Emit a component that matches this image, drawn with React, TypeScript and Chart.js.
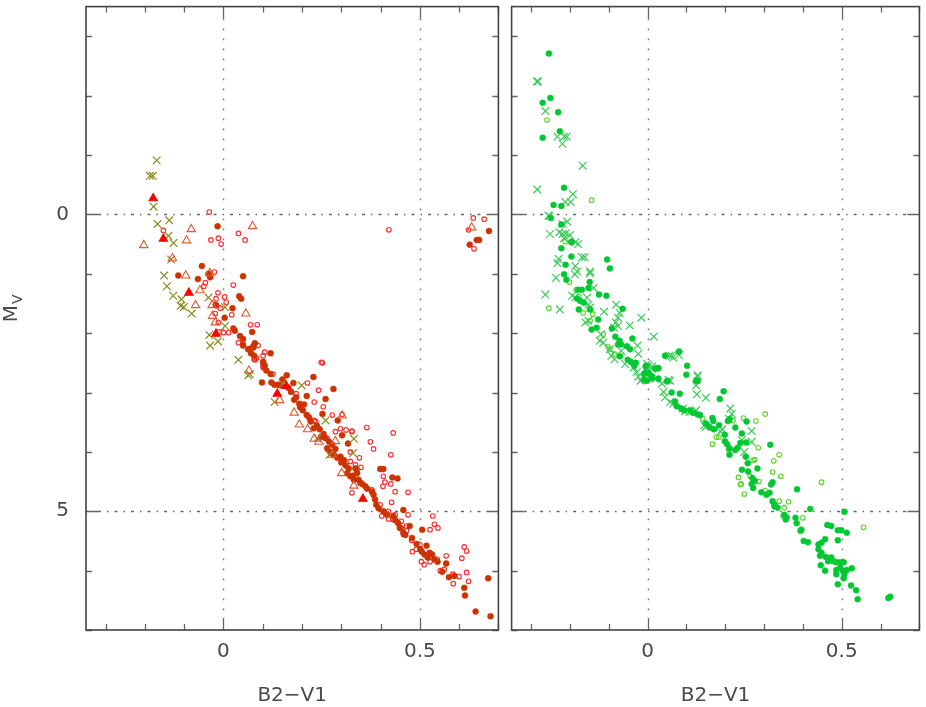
import React, { useEffect, useRef } from "react";
import { Chart, registerables } from "chart.js";

Chart.register(...registerables);

// ---------- axes ----------
const X_MIN = -0.35;
const X_MAX = 0.7;
const Y_MIN = -3.5;
const Y_MAX = 7.0;
const X_TICKS = [-0.3, -0.2, -0.1, 0, 0.1, 0.2, 0.3, 0.4, 0.5, 0.6, 0.7];
const Y_TICKS = [-3, -2, -1, 0, 1, 2, 3, 4, 5, 6, 7];
const X_LABELED = [0, 0.5];
const Y_LABELED = [0, 5];
const X_TITLE = "B2\u2212V1";
const Y_TITLE_MAIN = "M";
const Y_TITLE_SUB = "V";

// ---------- left panel data [B2-V1, M_V] ----------
const LEFT_OPEN_CIRCLES = [
  [-0.036, -0.04], [-0.153, 0.27], [-0.032, 0.43], [-0.013, 0.4], [-0.006, 0.5], [0.038, 0.32], [0.055, 0.43],
  [-0.023, 0.97], [-0.046, 1.15], [-0.05, 1.21], [-0.014, 1.32], [-0.019, 1.42], [0.003, 1.39], [0.007, 1.48],
  [-0.017, 1.54], [-0.008, 1.58], [0.025, 1.19], [0.021, 1.69], [-0.021, 1.67], [-0.013, 1.82], [-0.011, 1.98],
  [0.0, 1.99], [0.013, 1.99], [0.069, 1.86], [0.086, 1.86], [0.038, 2.16], [0.05, 2.19], [0.067, 2.26],
  [0.105, 2.32], [0.08, 2.45], [0.249, 2.49], [0.084, 2.42], [0.101, 2.58], [0.126, 2.69], [0.252, 2.5],
  [0.214, 2.84], [0.231, 3.16], [0.254, 3.24], [0.277, 3.38], [0.302, 3.37], [0.327, 3.65], [0.323, 4.0],
  [0.08, 2.44], [0.101, 2.56], [0.242, 2.96], [0.312, 3.63], [0.327, 3.66], [0.365, 3.59], [0.432, 3.68],
  [0.374, 3.83], [0.382, 3.95], [0.426, 4.05], [0.346, 4.1], [0.35, 4.26], [0.407, 4.41], [0.411, 4.51],
  [0.406, 4.58], [0.426, 4.54], [0.437, 4.67], [0.47, 4.68], [0.428, 4.85], [0.327, 4.69], [0.403, 5.08],
  [0.42, 5.13], [0.437, 5.06], [0.47, 5.06], [0.453, 5.28], [0.458, 5.39], [0.466, 5.33], [0.479, 5.49],
  [0.5, 5.56], [0.491, 5.64], [0.481, 5.68], [0.504, 5.85], [0.511, 5.9], [0.526, 5.85], [0.544, 5.81],
  [0.567, 5.75], [0.533, 5.08], [0.537, 5.22], [0.546, 5.28], [0.526, 5.31], [0.613, 5.6], [0.619, 5.67],
  [0.607, 5.79], [0.552, 6.0], [0.562, 5.98], [0.584, 6.06], [0.585, 6.22], [0.6, 6.1], [0.619, 6.03],
  [0.624, 6.18], [0.636, 0.06], [0.664, 0.08], [0.624, 0.26], [0.638, 0.58], [0.421, 0.26],
  [0.101, 2.38], [0.088, 2.21], [0.078, 2.44], [0.185, 3.02], [0.172, 2.98], [0.231, 3.47], [0.235, 3.49],
  [0.264, 3.77], [0.285, 3.66], [0.298, 3.61], [0.323, 4.16], [0.336, 4.22], [0.34, 4.3], [0.378, 4.64],
  [0.399, 4.89], [0.42, 5.0], [0.432, 5.14], [0.453, 5.17], [0.466, 5.25],
];

const LEFT_FILLED_CIRCLES = [
  [-0.015, 0.2], [-0.055, 0.87], [-0.115, 1.03], [-0.065, 1.09], [-0.038, 1.0], [-0.034, 1.06], [0.05, 1.04],
  [0.04, 1.38], [0.045, 1.42], [0.023, 1.58], [0.003, 1.74], [0.073, 1.98], [-0.02, 1.52], [0.025, 1.92],
  [0.029, 1.96], [0.042, 2.05], [0.05, 2.1], [0.08, 2.17], [0.076, 2.24], [0.05, 2.21], [0.063, 2.27],
  [0.07, 2.34], [0.078, 2.38], [0.12, 2.34], [0.101, 2.48], [0.101, 2.5], [0.109, 2.63], [0.12, 2.69],
  [0.098, 2.83], [0.122, 2.83], [0.13, 2.87], [0.161, 2.71], [0.178, 2.84], [0.229, 2.74], [0.28, 2.94],
  [0.212, 3.06], [0.26, 3.11], [0.172, 2.99], [0.185, 3.08], [0.193, 3.19], [0.202, 3.3], [0.212, 3.38],
  [0.222, 3.49], [0.238, 3.56], [0.252, 3.36], [0.291, 3.47], [0.248, 3.75], [0.26, 3.77], [0.269, 3.83],
  [0.277, 3.88], [0.264, 3.94], [0.272, 4.0], [0.281, 4.05], [0.302, 3.72], [0.317, 3.86], [0.298, 4.08],
  [0.307, 4.14], [0.311, 4.23], [0.319, 4.28], [0.315, 4.36], [0.323, 4.41], [0.332, 4.47], [0.336, 4.28],
  [0.34, 4.36], [0.344, 4.47], [0.353, 4.54], [0.361, 4.58], [0.378, 4.67], [0.382, 4.72], [0.386, 4.8],
  [0.389, 4.89], [0.399, 4.29], [0.407, 4.29], [0.43, 4.43], [0.443, 4.45], [0.407, 5.0], [0.416, 5.06],
  [0.432, 5.08], [0.445, 5.2], [0.449, 5.28], [0.458, 5.36], [0.458, 4.98], [0.474, 5.25], [0.506, 5.31],
  [0.501, 5.64], [0.512, 5.73], [0.52, 5.78], [0.531, 5.73], [0.537, 5.81], [0.517, 5.58], [0.567, 5.88],
  [0.557, 6.02], [0.574, 6.11], [0.588, 6.09], [0.613, 6.29], [0.615, 6.42], [0.674, 6.13], [0.642, 6.69],
  [0.68, 6.77], [0.076, 2.22], [0.139, 2.87], [0.145, 2.88], [0.105, 2.55],
  [0.676, 0.28], [0.627, 0.51], [0.645, 0.43], [0.651, 0.43],
  [0.15, 2.78], [0.165, 2.92], [0.18, 3.12], [0.195, 3.25], [0.205, 3.2], [0.218, 3.42], [0.23, 3.6],
  [0.245, 3.62], [0.255, 3.7], [0.285, 3.95], [0.29, 4.1], [0.3, 4.18], [0.33, 4.4], [0.348, 4.52],
  [0.366, 4.62], [0.395, 4.95], [0.438, 5.15], [0.463, 5.4], [0.48, 5.45], [0.492, 5.55], [0.505, 5.68],
  [0.525, 5.7], [0.545, 5.85],
];

const LEFT_CROSSES = [
  [-0.17, -0.91], [-0.187, -0.65], [-0.18, -0.65], [-0.178, -0.13], [-0.168, 0.16], [-0.138, 0.1],
  [-0.14, 0.36], [-0.127, 0.48], [-0.133, 0.76], [-0.151, 1.03], [-0.144, 1.21], [-0.128, 1.37],
  [-0.107, 1.43], [-0.109, 1.54], [-0.101, 1.56], [-0.081, 1.67], [-0.038, 1.4], [-0.036, 2.03],
  [-0.034, 2.21], [-0.014, 2.14], [0.004, 1.88], [0.004, 1.56], [0.038, 2.45], [0.063, 2.71], [0.067, 2.69],
  [0.151, 2.85], [0.13, 3.16], [0.199, 2.88], [0.26, 3.47], [0.332, 3.78], [0.239, 3.77], [0.27, 4.05],
  [0.33, 4.02],
];

const LEFT_OPEN_TRIANGLES = [
  [-0.203, 0.52], [-0.082, 0.25], [-0.094, 0.44], [0.074, 0.2], [-0.13, 0.74], [-0.096, 1.03], [-0.06, 1.28],
  [-0.071, 1.53], [-0.035, 0.99], [-0.029, 1.53], [-0.028, 1.71], [-0.021, 1.82], [0.057, 1.67], [0.065, 2.63],
  [0.143, 3.13], [0.18, 3.34], [0.193, 3.54], [0.214, 3.62], [0.231, 3.78], [0.243, 3.83], [0.277, 4.05],
  [0.301, 4.36], [0.332, 4.57], [0.302, 3.39], [0.285, 3.82], [0.632, 0.22],
];

const LEFT_FILLED_TRIANGLES = [
  [-0.179, -0.27], [-0.153, 0.41], [-0.088, 1.32], [-0.019, 2.01], [0.137, 3.02], [0.16, 2.89], [0.355, 4.79],
];

// ---------- right panel data [B2-V1, M_V] ----------
const RIGHT_FILLED_CIRCLES = [
  [-0.254, -2.71], [-0.25, -1.96], [-0.27, -1.88], [-0.23, -1.72], [-0.226, -1.4], [-0.27, -1.29], [-0.215, -0.45],
  [-0.242, -0.16], [-0.222, -0.14], [-0.249, 0.06], [-0.222, 0.17], [-0.196, 0.46], [-0.222, 0.57],
  [-0.196, 0.47], [-0.196, 0.71], [-0.211, 0.85], [-0.215, 1.01], [-0.209, 1.1], [-0.104, 0.76], [-0.097, 0.91],
  [-0.149, 1.14], [-0.152, 1.24], [-0.179, 1.27], [-0.169, 1.27], [-0.181, 1.42], [-0.173, 1.46], [-0.164, 1.49],
  [-0.125, 1.35], [-0.106, 1.37], [-0.148, 1.6], [-0.177, 1.6], [-0.127, 1.77], [-0.144, 1.94], [-0.131, 1.91],
  [-0.092, 1.92], [-0.064, 1.59], [-0.083, 2.06], [-0.072, 2.13], [-0.068, 2.19], [-0.076, 2.19], [-0.039, 2.09],
  [-0.053, 2.22], [-0.045, 2.27], [-0.071, 2.39], [-0.051, 2.45], [-0.043, 2.48], [-0.03, 2.5], [-0.034, 2.55],
  [-0.003, 2.55], [-0.005, 2.66], [0.006, 2.7], [-0.009, 2.78], [-0.001, 2.8], [0.012, 2.76], [0.027, 2.59],
  [0.045, 2.38], [0.081, 2.31], [0.102, 2.55], [0.1, 2.7], [0.125, 2.8], [0.05, 2.81],
  [-0.005, 2.56], [0.02, 2.6], [0.028, 2.59], [-0.009, 2.69], [0.003, 2.67], [0.012, 2.73], [0.028, 2.77],
  [0.052, 2.81], [0.062, 3.0], [0.083, 3.02], [0.071, 3.15], [0.075, 3.23], [0.087, 3.27], [0.094, 3.3],
  [0.11, 3.3], [0.117, 3.34], [0.129, 3.37], [0.135, 3.38], [0.129, 2.81], [0.196, 2.98], [0.186, 3.11],
  [0.167, 3.43], [0.169, 3.48], [0.15, 3.52], [0.159, 3.58], [0.171, 3.62], [0.184, 3.55], [0.211, 3.45],
  [0.207, 3.48], [0.226, 3.59], [0.255, 3.49], [0.243, 3.69], [0.199, 3.71], [0.199, 3.82], [0.205, 3.87],
  [0.211, 3.94], [0.211, 4.05], [0.226, 3.97], [0.232, 3.93], [0.254, 3.84], [0.239, 3.85], [0.253, 4.08],
  [0.258, 4.19], [0.243, 4.3], [0.259, 4.33], [0.283, 4.28], [0.27, 4.44], [0.276, 4.49], [0.268, 4.54],
  [0.272, 4.61], [0.293, 4.68], [0.306, 4.72], [0.314, 4.69], [0.318, 4.55], [0.322, 4.51], [0.316, 3.88],
  [0.322, 4.83], [0.327, 4.92], [0.335, 4.94], [0.327, 4.89], [0.352, 5.06], [0.356, 5.14], [0.358, 5.1],
  [0.381, 5.11], [0.384, 5.2], [0.385, 4.63], [0.419, 4.96], [0.396, 5.31], [0.394, 5.33], [0.402, 5.5],
  [0.413, 5.52], [0.463, 5.23], [0.473, 5.25], [0.457, 5.47], [0.448, 5.53], [0.44, 5.56], [0.49, 5.32],
  [0.49, 5.49], [0.507, 5.01], [0.499, 5.32], [0.513, 5.36], [0.44, 5.64], [0.448, 5.7], [0.444, 5.75],
  [0.459, 5.77], [0.465, 5.84], [0.473, 5.78], [0.446, 5.91], [0.457, 6.0], [0.478, 5.84], [0.486, 5.86],
  [0.496, 5.86], [0.505, 5.86], [0.486, 5.99], [0.496, 5.95], [0.503, 6.0], [0.513, 5.99], [0.526, 5.96],
  [0.486, 6.06], [0.505, 6.13], [0.507, 6.06], [0.49, 6.23], [0.524, 6.25], [0.537, 6.33], [0.541, 6.48],
  [0.625, 6.44], [0.62, 6.46],
];

const RIGHT_CROSSES = [
  [-0.285, -2.24], [-0.282, -2.24], [-0.263, -1.74], [-0.232, -1.31], [-0.215, -1.31], [-0.208, -1.31],
  [-0.219, -1.19], [-0.167, -0.82], [-0.284, -0.42], [-0.192, -0.34], [-0.198, -0.21], [-0.212, -0.21],
  [-0.255, 0.02], [-0.253, 0.03], [-0.207, 0.12], [-0.219, 0.16], [-0.251, 0.33], [-0.227, 0.3], [-0.219, 0.33],
  [-0.211, 0.32], [-0.2, 0.35], [-0.215, 0.4], [-0.186, 0.47], [-0.179, 0.5], [-0.229, 0.75], [-0.232, 0.82],
  [-0.169, 0.72], [-0.162, 0.72], [-0.236, 1.07], [-0.186, 0.87], [-0.181, 0.96], [-0.187, 1.01], [-0.148, 0.96],
  [-0.148, 0.99], [-0.263, 1.35], [-0.226, 1.6], [-0.194, 1.37], [-0.186, 1.4], [-0.139, 1.24], [-0.156, 1.4],
  [-0.152, 1.52], [-0.148, 1.57], [-0.16, 1.82], [-0.152, 1.79], [-0.112, 1.64], [-0.12, 2.02], [-0.123, 2.13],
  [-0.114, 2.16], [-0.081, 1.52], [-0.072, 1.66], [-0.076, 1.74], [-0.082, 1.82], [-0.076, 1.88], [-0.086, 1.91],
  [-0.046, 1.87], [-0.016, 1.74], [0.016, 2.06], [-0.097, 2.27], [-0.093, 2.38], [-0.085, 2.44], [-0.068, 2.3],
  [-0.026, 2.21], [-0.024, 2.35], [-0.058, 2.52], [-0.036, 2.58], [-0.028, 2.66], [-0.024, 2.73], [-0.018, 2.8],
  [0.003, 2.55], [0.012, 2.6], [0.062, 2.38], [0.054, 2.79], [0.129, 2.73],
  [-0.001, 2.52], [0.012, 2.56], [0.056, 2.38], [0.081, 2.37], [0.066, 2.41], [0.02, 2.77], [0.037, 2.85],
  [0.041, 2.99], [0.058, 2.8], [0.045, 3.08], [0.058, 3.16], [0.066, 3.19], [0.091, 3.27], [0.096, 3.32],
  [0.108, 3.33], [0.125, 3.3], [0.129, 2.71], [0.125, 2.88], [0.127, 3.03], [0.15, 3.09], [0.146, 3.55],
  [0.15, 3.58], [0.213, 3.27], [0.217, 3.36], [0.209, 3.44], [0.268, 3.65], [0.268, 3.83], [0.243, 3.8],
  [0.249, 4.0], [0.192, 3.62], [0.188, 3.66],
];

const RIGHT_OPEN_CIRCLES = [
  [-0.259, -1.59], [-0.144, -0.24], [-0.212, 0.46], [-0.201, 1.14], [-0.254, 1.58], [-0.184, 1.27], [-0.177, 1.38],
  [-0.166, 1.66], [-0.141, 1.68], [-0.148, 1.79], [-0.102, 2.23], [-0.097, 2.27], [-0.085, 2.35], [-0.114, 2.02],
  [-0.009, 2.81], [0.113, 3.33], [0.142, 3.44], [0.165, 3.6], [0.177, 3.75], [0.184, 3.75], [0.167, 3.87],
  [0.22, 3.47], [0.247, 3.43], [0.279, 3.48], [0.303, 3.36], [0.209, 3.97], [0.285, 3.93], [0.272, 4.14],
  [0.276, 4.13], [0.325, 4.15], [0.339, 4.05], [0.322, 4.34], [0.343, 4.41], [0.234, 4.43], [0.239, 4.55],
  [0.241, 4.54], [0.249, 4.71], [0.264, 4.41], [0.287, 4.5], [0.302, 4.65], [0.339, 4.83], [0.363, 4.84],
  [0.352, 4.94], [0.349, 5.08], [0.4, 5.11], [0.448, 4.51], [0.556, 5.27],
];

// ---------- styling ----------
const FONT_FAMILY = '"DejaVu Sans", "Liberation Sans", sans-serif';
const TEXT_COLOR = "#4a4a4a";
const CANVAS_H = 707;
const LEFT_W = 505;
const RIGHT_W = 421;

const near = (v: number, arr: number[]) => arr.some((t) => Math.abs(t - v) < 1e-9);

const pts = (arr: number[][]) => arr.map(([x, y]) => ({ x, y }));

const zeroPad = (s: any) => {
  s.paddingTop = 0;
  s.paddingBottom = 0;
  s.paddingLeft = 0;
  s.paddingRight = 0;
};

const framePlugin = {
  id: "frameTicks",
  beforeDatasetsDraw(chart: any) {
    const { ctx, chartArea: a } = chart;
    const xs = chart.scales.x;
    const ys = chart.scales.y;
    ctx.save();
    ctx.beginPath();
    ctx.rect(a.left, a.top, a.right - a.left, a.bottom - a.top);
    ctx.clip();
    ctx.strokeStyle = "#808080";
    ctx.lineWidth = 1.6;
    ctx.setLineDash([1.6, 8.4]);
    X_LABELED.forEach((v) => {
      const p = Math.round(xs.getPixelForValue(v)) + 0.5;
      ctx.beginPath();
      ctx.moveTo(p, a.top + 12);
      ctx.lineTo(p, a.bottom - 12);
      ctx.stroke();
    });
    ctx.strokeStyle = "#666";
    ctx.lineWidth = 1.3;
    ctx.setLineDash([3, 6, 1.5, 6]);
    Y_LABELED.forEach((v) => {
      const p = Math.round(ys.getPixelForValue(v)) + 0.5;
      ctx.beginPath();
      ctx.moveTo(a.left + 12, p);
      ctx.lineTo(a.right - 12, p);
      ctx.stroke();
    });
    ctx.restore();
  },
  afterDatasetsDraw(chart: any) {
    const { ctx, chartArea: a } = chart;
    const xs = chart.scales.x;
    const ys = chart.scales.y;
    ctx.save();
    ctx.strokeStyle = "#666";
    ctx.lineWidth = 1.3;
    xs.ticks.forEach((t: any) => {
      const p = Math.round(xs.getPixelForValue(t.value)) + 0.5;
      const L = near(t.value, X_LABELED) ? 12 : 6;
      ctx.beginPath();
      ctx.moveTo(p, a.bottom);
      ctx.lineTo(p, a.bottom - L);
      ctx.moveTo(p, a.top);
      ctx.lineTo(p, a.top + L);
      ctx.stroke();
    });
    ys.ticks.forEach((t: any) => {
      const p = Math.round(ys.getPixelForValue(t.value)) + 0.5;
      const L = near(t.value, Y_LABELED) ? 12 : 6;
      ctx.beginPath();
      ctx.moveTo(a.left, p);
      ctx.lineTo(a.left + L, p);
      ctx.moveTo(a.right, p);
      ctx.lineTo(a.right - L, p);
      ctx.stroke();
    });
    ctx.strokeStyle = "#444";
    ctx.lineWidth = 1.6;
    ctx.strokeRect(a.left, a.top, a.right - a.left, a.bottom - a.top);
    ctx.restore();
  },
};

const yTitlePlugin = {
  id: "yTitleSub",
  afterDraw(chart: any) {
    const { ctx, chartArea: a } = chart;
    ctx.save();
    const cy = (a.top + a.bottom) / 2 + 4;
    ctx.translate(17, cy);
    ctx.rotate(-Math.PI / 2);
    ctx.fillStyle = TEXT_COLOR;
    ctx.textBaseline = "alphabetic";
    ctx.textAlign = "left";
    ctx.font = `20px ${FONT_FAMILY}`;
    ctx.fillText(Y_TITLE_MAIN, 0, 0);
    const w = ctx.measureText(Y_TITLE_MAIN).width;
    ctx.font = `14px ${FONT_FAMILY}`;
    ctx.fillText(Y_TITLE_SUB, w + 1, 5);
    ctx.restore();
  },
};

function makeConfig(datasets: any[], showY: boolean): any {
  return {
    type: "scatter",
    data: { datasets },
    options: {
      responsive: false,
      animation: false,
      events: [],
      layout: { padding: { left: 0, right: 3, top: 2, bottom: 0 } },
      plugins: { legend: { display: false }, tooltip: { enabled: false } },
      scales: {
        x: {
          type: "linear",
          min: X_MIN,
          max: X_MAX,
          afterBuildTicks: (s: any) => {
            s.ticks = X_TICKS.map((v) => ({ value: v }));
          },
          afterFit: (s: any) => {
            s.height = 77;
            zeroPad(s);
          },
          grid: { display: false, drawTicks: false },
          border: { display: false },
          ticks: {
            autoSkip: false,
            maxRotation: 0,
            padding: 10,
            color: TEXT_COLOR,
            font: { family: FONT_FAMILY, size: 20 },
            callback: (v: number) => {
              const t = X_LABELED.find((u) => Math.abs(u - v) < 1e-9);
              return t === undefined ? "" : String(t);
            },
          },
          title: {
            display: true,
            text: X_TITLE,
            color: TEXT_COLOR,
            font: { family: FONT_FAMILY, size: 20, lineHeight: 1.0 },
            padding: { top: 0, bottom: 1 },
          },
        },
        y: {
          type: "linear",
          min: Y_MIN,
          max: Y_MAX,
          reverse: true,
          afterBuildTicks: (s: any) => {
            s.ticks = Y_TICKS.map((v) => ({ value: v }));
          },
          afterFit: (s: any) => {
            s.width = showY ? 86 : 3;
            zeroPad(s);
          },
          grid: { display: false, drawTicks: false },
          border: { display: false },
          ticks: {
            display: showY,
            autoSkip: false,
            padding: 17,
            color: TEXT_COLOR,
            font: { family: FONT_FAMILY, size: 20 },
            callback: (v: number) => {
              const t = Y_LABELED.find((u) => Math.abs(u - v) < 1e-9);
              return t === undefined ? "" : String(t);
            },
          },
        },
      },
    },
    plugins: showY ? [framePlugin, yTitlePlugin] : [framePlugin],
  };
}

const filled = (data: number[][], color: string) => ({
  data: pts(data),
  pointStyle: "circle",
  pointRadius: 3,
  pointBorderWidth: 0.5,
  backgroundColor: color,
  borderColor: color,
});
const openCircle = (data: number[][], color: string) => ({
  data: pts(data),
  pointStyle: "circle",
  pointRadius: 2.3,
  pointBorderWidth: 1.1,
  backgroundColor: "rgba(0,0,0,0)",
  borderColor: color,
});
const cross = (data: number[][], color: string) => ({
  data: pts(data),
  pointStyle: "crossRot",
  pointRadius: 5.4,
  pointBorderWidth: 1.2,
  backgroundColor: color,
  borderColor: color,
});
const triangle = (data: number[][], color: string, fill: boolean) => ({
  data: pts(data),
  pointStyle: "triangle",
  pointRadius: 4.8,
  pointBorderWidth: 1.1,
  backgroundColor: fill ? color : "rgba(0,0,0,0)",
  borderColor: color,
});

export default function App() {
  const leftRef = useRef<HTMLCanvasElement>(null);
  const rightRef = useRef<HTMLCanvasElement>(null);

  useEffect(() => {
    const left = new Chart(
      leftRef.current!,
      makeConfig(
        [
          triangle(LEFT_FILLED_TRIANGLES, "#ff0000", true),
          triangle(LEFT_OPEN_TRIANGLES, "#dd5a32", false),
          cross(LEFT_CROSSES, "#8a8a20"),
          filled(LEFT_FILLED_CIRCLES, "#cc3300"),
          openCircle(LEFT_OPEN_CIRCLES, "#ff2a2a"),
        ],
        true
      )
    );
    const right = new Chart(
      rightRef.current!,
      makeConfig(
        [
          filled(RIGHT_FILLED_CIRCLES, "#00c832"),
          cross(RIGHT_CROSSES, "#3ccc58"),
          openCircle(RIGHT_OPEN_CIRCLES, "#5ad82a"),
        ],
        false
      )
    );
    return () => {
      left.destroy();
      right.destroy();
    };
  }, []);

  return (
    <div style={{ position: "absolute", left: 0, top: 0, width: 926, height: CANVAS_H, background: "#fff" }}>
      <canvas
        ref={leftRef}
        width={LEFT_W}
        height={CANVAS_H}
        style={{ position: "absolute", left: 0, top: 0, width: LEFT_W, height: CANVAS_H }}
      />
      <canvas
        ref={rightRef}
        width={RIGHT_W}
        height={CANVAS_H}
        style={{ position: "absolute", left: LEFT_W, top: 0, width: RIGHT_W, height: CANVAS_H }}
      />
    </div>
  );
}
